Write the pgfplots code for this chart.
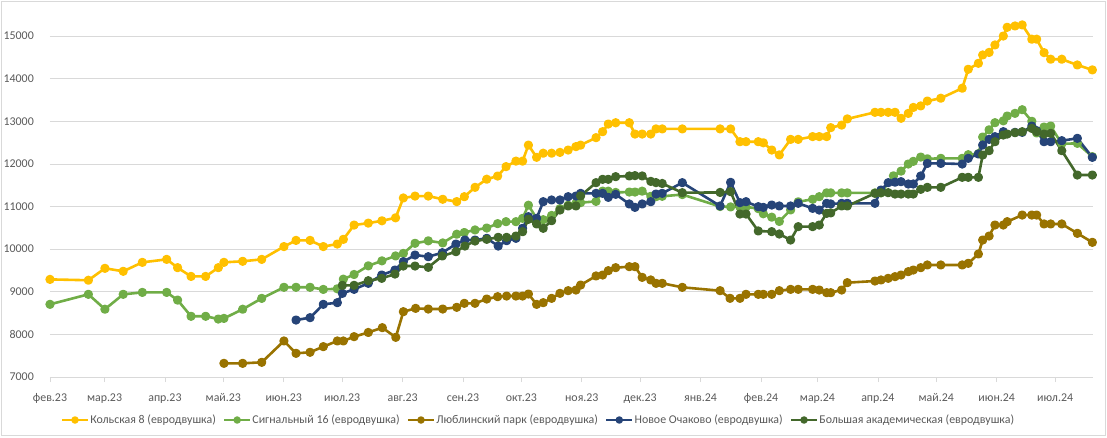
\documentclass[border=0pt]{standalone}
\usepackage{fontspec}
\setmainfont{Carlito}
\usepackage{pgfplots}
\pgfplotsset{compat=1.18}
\definecolor{cYel}{HTML}{FFC000}
\definecolor{cLgr}{HTML}{70AD47}
\definecolor{cBrn}{HTML}{997300}
\definecolor{cBlu}{HTML}{264478}
\definecolor{cDgr}{HTML}{43682B}
\definecolor{gridc}{HTML}{D9D9D9}
\definecolor{labc}{HTML}{595959}
\begin{document}
\begin{tikzpicture}[x=1pt,y=1pt]
\useasboundingbox (-50,-60) rectangle (1057,377);
\draw[color=gridc, line width=0.75pt] (-48.5,-58.5) rectangle (1055.5,375.5);
\begin{axis}[
  at={(0,0)}, anchor=south west,
  scale only axis, width=1042.5pt, height=375pt,
  xmin=0, xmax=535.2, ymin=7000, ymax=15798,
  scaled y ticks=false, scaled x ticks=false,
  axis line style={draw=none},
  ymajorgrids, grid style={color=gridc, line width=0.75pt},
  ytick={7000,8000,9000,10000,11000,12000,13000,14000,15000},
  yticklabels={7000,8000,9000,10000,11000,12000,13000,14000,15000},
  ytick style={draw=none},
  yticklabel style={anchor=east, inner sep=0pt, xshift=-11pt},
  xtick={0,28,59,89,120,150,181,212,242,273,303,334,365,394,425,455,486,516},
  xticklabels={фев.23,мар.23,апр.23,май.23,июн.23,июл.23,авг.23,сен.23,окт.23,ноя.23,дек.23,янв.24,фев.24,мар.24,апр.24,май.24,июн.24,июл.24},
  xtick pos=bottom, tick align=outside, major tick length=5pt,
  xtick style={color=gridc, line width=0.75pt},
  xticklabel style={anchor=base, inner sep=0pt, yshift=-19pt},
  tick label style={font=\fontsize{11.9}{13}\selectfont, text=labc},
  clip=false,
  every axis plot/.append style={line width=2.6pt, mark=*, mark size=3.3pt, line join=round},
  legend style={at={(0.468,-0.1147)}, anchor=center, draw=none, fill=none,
    font=\fontsize{11.9}{13}\selectfont, text=labc, inner sep=0pt,
    nodes={inner sep=1pt},
    /tikz/every even column/.append style={column sep=6pt}},
  legend columns=-1,
  legend image code/.code={\draw[mark repeat=2,mark phase=2,#1, line width=2.6pt, mark size=2.4pt] plot coordinates {(0pt,0pt) (13pt,0pt) (26pt,0pt)};},
]
% Кольская 8
\addplot[color=cYel, mark options={fill=cYel}] coordinates {
(0,9290)(19.7,9270)(28.2,9550)(37.6,9480)(47.4,9690)(59.9,9760)(65.5,9565)(72.4,9360)(79.9,9360)(86.4,9565)(89.3,9690)(98.9,9715)(108.7,9760)(120.1,10060)(126.3,10205)(133.5,10205)(140.3,10060)(147.5,10120)(150.6,10230)(156.1,10565)(163.4,10610)(170.4,10665)(177.4,10735)(181.4,11200)(187.4,11245)(194.2,11245)(201.6,11170)(208.8,11115)(212.7,11230)(218.2,11450)(224.2,11640)(229.8,11715)(234.1,11935)(239.2,12065)(242.6,12065)(245.6,12440)(249.8,12155)(253.2,12250)(257.5,12250)(261.8,12270)(266,12325)(270,12405)(272.4,12440)(280.3,12615)(283.7,12755)(286.6,12935)(290.4,12965)(297.4,12965)(300.3,12700)(304,12700)(308.4,12700)(311.1,12820)(314.3,12820)(324.6,12820)(344,12820)(349.4,12820)(354.2,12520)(357.3,12520)(363.6,12520)(366.2,12495)(370.5,12325)(374.4,12210)(380.2,12575)(384.1,12575)(391.5,12640)(394.9,12640)(398.7,12640)(400.8,12850)(406.4,12910)(409.3,13055)(423.5,13210)(426.6,13210)(430.3,13210)(433.8,13210)(436.9,13070)(440.6,13185)(443.2,13325)(447,13360)(450.4,13475)(457.3,13540)(468.3,13775)(471.4,14220)(476.6,14360)(478.8,14555)(482.1,14615)(485.1,14790)(489.4,15000)(491.4,15205)(495.4,15235)(499.1,15260)(504,14925)(506.5,14925)(510.3,14610)(513.7,14455)(519.4,14455)(527.4,14320)(535.1,14205)
};
\addlegendentry{Кольская 8 (евродвушка)}
% Сигнальный 16
\addplot[color=cLgr, mark options={fill=cLgr}] coordinates {
(0,8705)(19.7,8940)(28.2,8590)(37.6,8940)(47.4,8985)(59.9,8985)(65.5,8805)(72.4,8425)(79.9,8425)(86.4,8360)(89.3,8375)(98.9,8590)(108.7,8845)(120.1,9105)(126.3,9105)(133.5,9105)(140.3,9055)(147.5,9070)(150.6,9295)(156.1,9405)(163.4,9608)(170.4,9725)(177.4,9840)(181.4,9900)(187.4,10137)(194.2,10195)(201.6,10145)(208.8,10350)(212.7,10390)(218.2,10450)(224.2,10495)(229.8,10598)(234.1,10644)(239.2,10644)(242.6,10723)(245.6,11030)(249.8,10720)(253.2,10690)(257.5,10790)(261.8,10950)(266,11030)(270,11075)(272.4,11090)(280.3,11120)(283.7,11360)(286.6,11360)(290.4,11330)(297.4,11340)(300.3,11340)(304,11360)(308.4,11240)(311.1,11230)(314.3,11240)(324.6,11280)(344,11000)(349.4,10990)(354.2,10990)(357.3,10990)(363.6,10950)(366.2,10830)(370.5,10750)(374.4,10650)(380.2,10920)(384.1,11110)(391.5,11170)(394.9,11230)(398.7,11320)(400.8,11320)(406.4,11320)(409.3,11320)(423.5,11320)(426.6,11320)(433,11720)(436.9,11830)(440.6,11997)(443.2,12060)(447,12160)(450.4,12120)(457.3,12130)(468.3,12130)(471.4,12215)(476.6,12240)(478.8,12630)(482.1,12800)(485.1,12966)(489.4,13010)(491.4,13123)(495.4,13186)(499.1,13270)(504,13000)(506.5,12725)(510.3,12865)(513.7,12888)(519.4,12470)(527.4,12482)(535.1,12169)
};
\addlegendentry{Сигнальный 16 (евродвушка)}
% Люблинский парк
\addplot[color=cBrn, mark options={fill=cBrn}] coordinates {
(89.3,7321)(98.9,7321)(108.7,7345)(120.1,7845)(126.3,7556)(133.5,7580)(140.3,7712)(147.5,7845)(150.6,7845)(156.1,7946)(163.4,8045)(170.6,8157)(177.5,7931)(181.4,8532)(187.7,8611)(194.2,8595)(201.6,8595)(208.8,8635)(212.7,8729)(218.2,8729)(224.2,8830)(229.8,8884)(234.4,8900)(239.2,8900)(242.6,8900)(245.6,8947)(249.8,8705)(253.2,8744)(257.5,8846)(261.8,8963)(266,9025)(270,9041)(272.4,9158)(280.3,9370)(283.7,9393)(286.6,9494)(290.4,9565)(297.4,9588)(300.3,9588)(304,9338)(308.4,9276)(311.1,9198)(314.3,9198)(324.6,9104)(344,9025)(349.1,8846)(354.2,8846)(357.3,8940)(363.6,8940)(366.2,8940)(370.5,8940)(374.4,9025)(380.2,9057)(384.1,9057)(391.5,9057)(394.9,9041)(398.7,8978)(400.8,8978)(406.4,9041)(409.3,9213)(423.5,9252)(426.6,9276)(430.3,9315)(433.8,9354)(436.9,9393)(440.6,9471)(443.2,9510)(447,9565)(450.4,9628)(457.3,9628)(468.3,9628)(471.4,9667)(476.6,9886)(478.8,10214)(482.1,10308)(485.1,10566)(489.4,10566)(491.4,10644)(499.1,10800)(504,10800)(506.5,10800)(510.3,10590)(513.7,10590)(519.4,10590)(527.4,10371)(535.1,10160)
};
\addlegendentry{Люблинский парк (евродвушка)}
% Новое Очаково
\addplot[color=cBlu, mark options={fill=cBlu}] coordinates {
(126.3,8337)(133.5,8392)(140.3,8705)(147.5,8744)(150.1,8963)(156.1,9057)(163.4,9198)(170.3,9393)(177.1,9510)(181.4,9705)(187.4,9862)(194.2,9822)(201.4,9916)(208.4,10120)(213,10214)(218.2,10214)(224.2,10254)(230.1,10073)(234.4,10198)(239.2,10254)(242.6,10489)(245.6,10761)(249.8,10723)(253.2,11113)(257.5,11153)(261.8,11153)(266,11230)(270,11246)(272.4,11309)(280.3,11309)(283.7,11309)(286.6,11215)(290.4,11286)(297.4,11059)(300.3,10980)(304,11059)(308.4,11113)(311.1,11293)(314.3,11309)(324.6,11559)(344,11012)(349.4,11567)(354.2,11090)(357.3,11113)(363.6,10996)(366.2,10980)(370.5,11035)(374.4,11012)(380.2,11012)(384.1,11075)(391.5,10957)(394.9,10918)(398.7,11075)(400.8,11060)(406.4,11075)(409.3,11075)(423.5,11075)(426.6,11387)(430.3,11559)(433.8,11570)(436.9,11582)(440.6,11528)(443.2,11528)(447,11716)(450.4,12011)(457.3,12011)(468.3,11997)(471.4,12130)(476.6,12232)(478.8,12443)(482.1,12576)(485.1,12638)(489.4,12755)(495.4,12740)(499.1,12740)(504,12888)(506.5,12779)(510.3,12520)(513.7,12520)(519.4,12544)(527.4,12600)(535.1,12154)
};
\addlegendentry{Новое Очаково (евродвушка)}
% Большая академическая
\addplot[color=cDgr, mark options={fill=cDgr}] coordinates {
(150.1,9151)(156.1,9151)(163.4,9259)(170.3,9315)(177.1,9416)(181.4,9604)(187.4,9604)(194.2,9573)(201.4,9839)(208.4,9940)(213,10073)(218.2,10190)(224.2,10230)(230.1,10277)(234.4,10277)(239.2,10308)(242.6,10409)(245.6,10700)(249.8,10590)(253.2,10489)(257.5,10667)(261.8,10918)(266,11012)(270,11012)(272.4,11250)(280.3,11559)(283.7,11638)(286.6,11638)(290.4,11700)(297.4,11716)(300.3,11724)(304,11716)(308.4,11590)(311.1,11560)(314.3,11540)(324.6,11324)(344,11330)(349.4,11348)(354.2,10824)(357.3,10824)(363.6,10426)(370.5,10410)(374.4,10355)(380.2,10214)(384.1,10527)(391.5,10527)(394.9,10566)(398.7,10840)(400.8,10850)(406.4,11012)(409.3,11012)(423.5,11309)(426.6,11324)(430.3,11324)(433.8,11293)(436.9,11293)(440.6,11293)(443.2,11293)(447,11403)(450.4,11450)(457.3,11450)(468.3,11685)(471.4,11685)(476.6,11685)(478.8,12208)(482.1,12310)(485.1,12520)(489.4,12677)(491.4,12700)(495.4,12732)(499.1,12755)(504,12833)(506.5,12755)(510.3,12700)(513.7,12717)(519.4,12310)(527.4,11739)(535.1,11739)
};
\addlegendentry{Большая академическая (евродвушка)}
\end{axis}
\end{tikzpicture}
\end{document}
